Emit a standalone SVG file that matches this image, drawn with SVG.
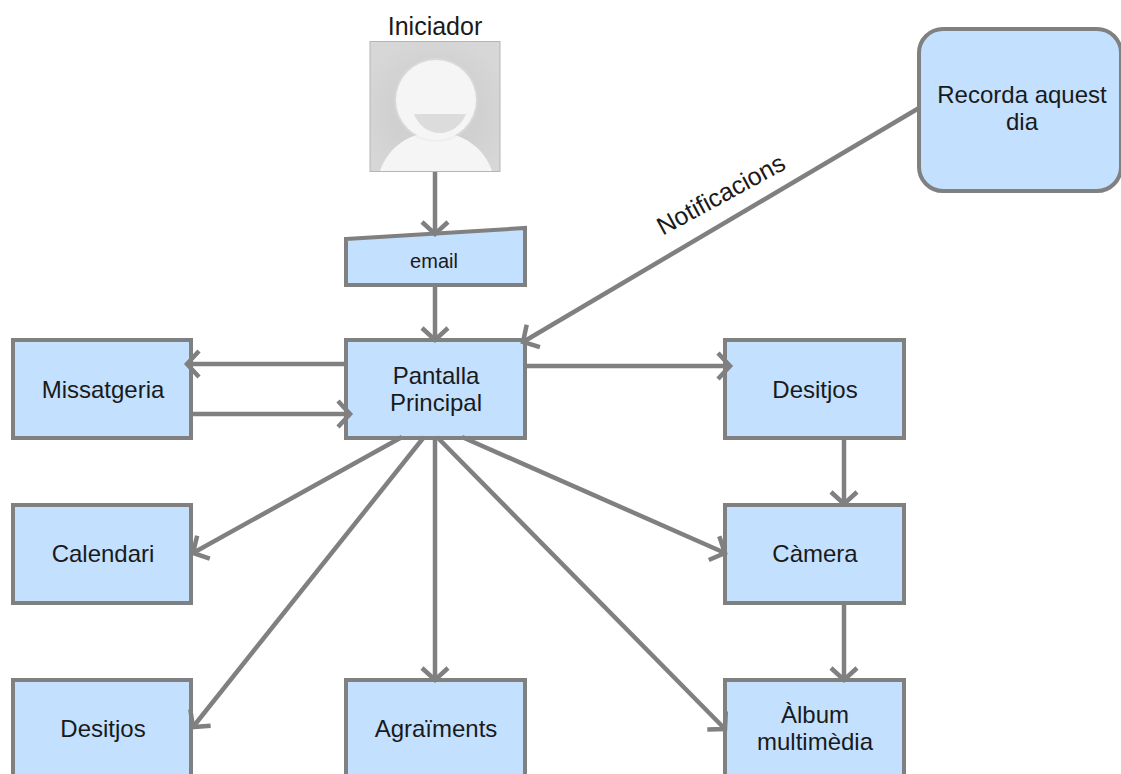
<svg xmlns="http://www.w3.org/2000/svg" width="1121" height="774" viewBox="0 0 1121 774">
<style>
.box{fill:#c3e0ff;stroke:#808080;stroke-width:4}
.t{font-family:"Liberation Sans",Arial,sans-serif;font-size:24px;fill:#1a1a1a;text-anchor:middle}
.c{fill:none;stroke:#808080;stroke-width:4.500}
</style>
<defs>
<marker id="a" markerUnits="userSpaceOnUse" markerWidth="30" markerHeight="30" refX="14" refY="13" orient="auto" overflow="visible"><path d="M2 0L14 13L2 26" fill="none" stroke="#808080" stroke-width="4.500"/></marker>
<radialGradient id="sh" cx="0.5" cy="0.55" r="0.6"><stop offset="0.55" stop-color="#d0d0d0"/><stop offset="1" stop-color="#d7d7d7"/></radialGradient>
</defs>
<rect width="1121" height="774" fill="#fff"/>
<g id="iniciador">
<text class="t" x="435" y="35" style="font-size:25px">Iniciador</text>
<rect x="370" y="41.500" width="130" height="130" fill="url(#sh)" stroke="#b5b5b5"/>
<path d="M380 171C388 147 410 132 436 132C461 132 484 147 492 171Z" fill="#f5f5f5"/>
<circle cx="436" cy="100" r="42" fill="#e4e4e4" opacity="0.4"/>
<circle cx="436" cy="100" r="40" fill="#f5f5f5"/>
<path d="M414 114H466C461 127 449 133 440 133C428 133 418 125 414 114Z" fill="#dcdcdc"/>
</g>
<g id="email"><path class="box" d="M346 239L525 228V285H346Z"/><text class="t" x="434" y="268" style="font-size:20px">email</text></g>
<g id="pantalla"><rect class="box" x="346" y="340" width="179" height="98"/><text class="t" x="436" y="384">Pantalla</text><text class="t" x="436" y="411">Principal</text></g>
<g id="missatgeria"><rect class="box" x="13" y="340" width="178" height="98"/><text class="t" x="103" y="398">Missatgeria</text></g>
<g id="calendari"><rect class="box" x="13" y="505" width="178" height="98"/><text class="t" x="103" y="562">Calendari</text></g>
<g id="desitjos-esq"><rect class="box" x="13" y="680" width="178" height="98"/><text class="t" x="103" y="737">Desitjos</text></g>
<g id="agraiments"><rect class="box" x="346" y="680" width="179" height="98"/><text class="t" x="436" y="737">Agraïments</text></g>
<g id="desitjos-dre"><rect class="box" x="725" y="340" width="179" height="98"/><text class="t" x="815" y="398">Desitjos</text></g>
<g id="camera"><rect class="box" x="725" y="505" width="179" height="98"/><text class="t" x="815" y="562">Càmera</text></g>
<g id="album"><rect class="box" x="725" y="680" width="179" height="98"/><text class="t" x="815" y="723">Àlbum</text><text class="t" x="815" y="750">multimèdia</text></g>
<g id="recorda"><rect class="box" x="919" y="29" width="202" height="162" rx="24"/><text class="t" x="1022" y="103">Recorda aquest</text><text class="t" x="1022" y="130">dia</text></g>
<g id="connectors">
<path class="c" marker-end="url(#a)" d="M435 172V234"/>
<path class="c" marker-end="url(#a)" d="M435 286V340"/>
<path class="c" marker-end="url(#a)" d="M346 364H187"/>
<path class="c" marker-end="url(#a)" d="M192 414H350"/>
<path class="c" marker-end="url(#a)" d="M526 366H730"/>
<path class="c" marker-end="url(#a)" d="M844 439V504"/>
<path class="c" marker-end="url(#a)" d="M844 604V680"/>
<path class="c" marker-end="url(#a)" d="M402 437L193 553"/>
<path class="c" marker-end="url(#a)" d="M424 437L193 727"/>
<path class="c" marker-end="url(#a)" d="M435 439V680"/>
<path class="c" marker-end="url(#a)" d="M437 437L725 729"/>
<path class="c" marker-end="url(#a)" d="M462 437L725 553"/>
<path class="c" marker-end="url(#a)" d="M919 108L523 342"/>
<text class="t" x="725" y="202" transform="rotate(-28.500 725 202)" style="font-size:25px">Notificacions</text>
</g>
</svg>
